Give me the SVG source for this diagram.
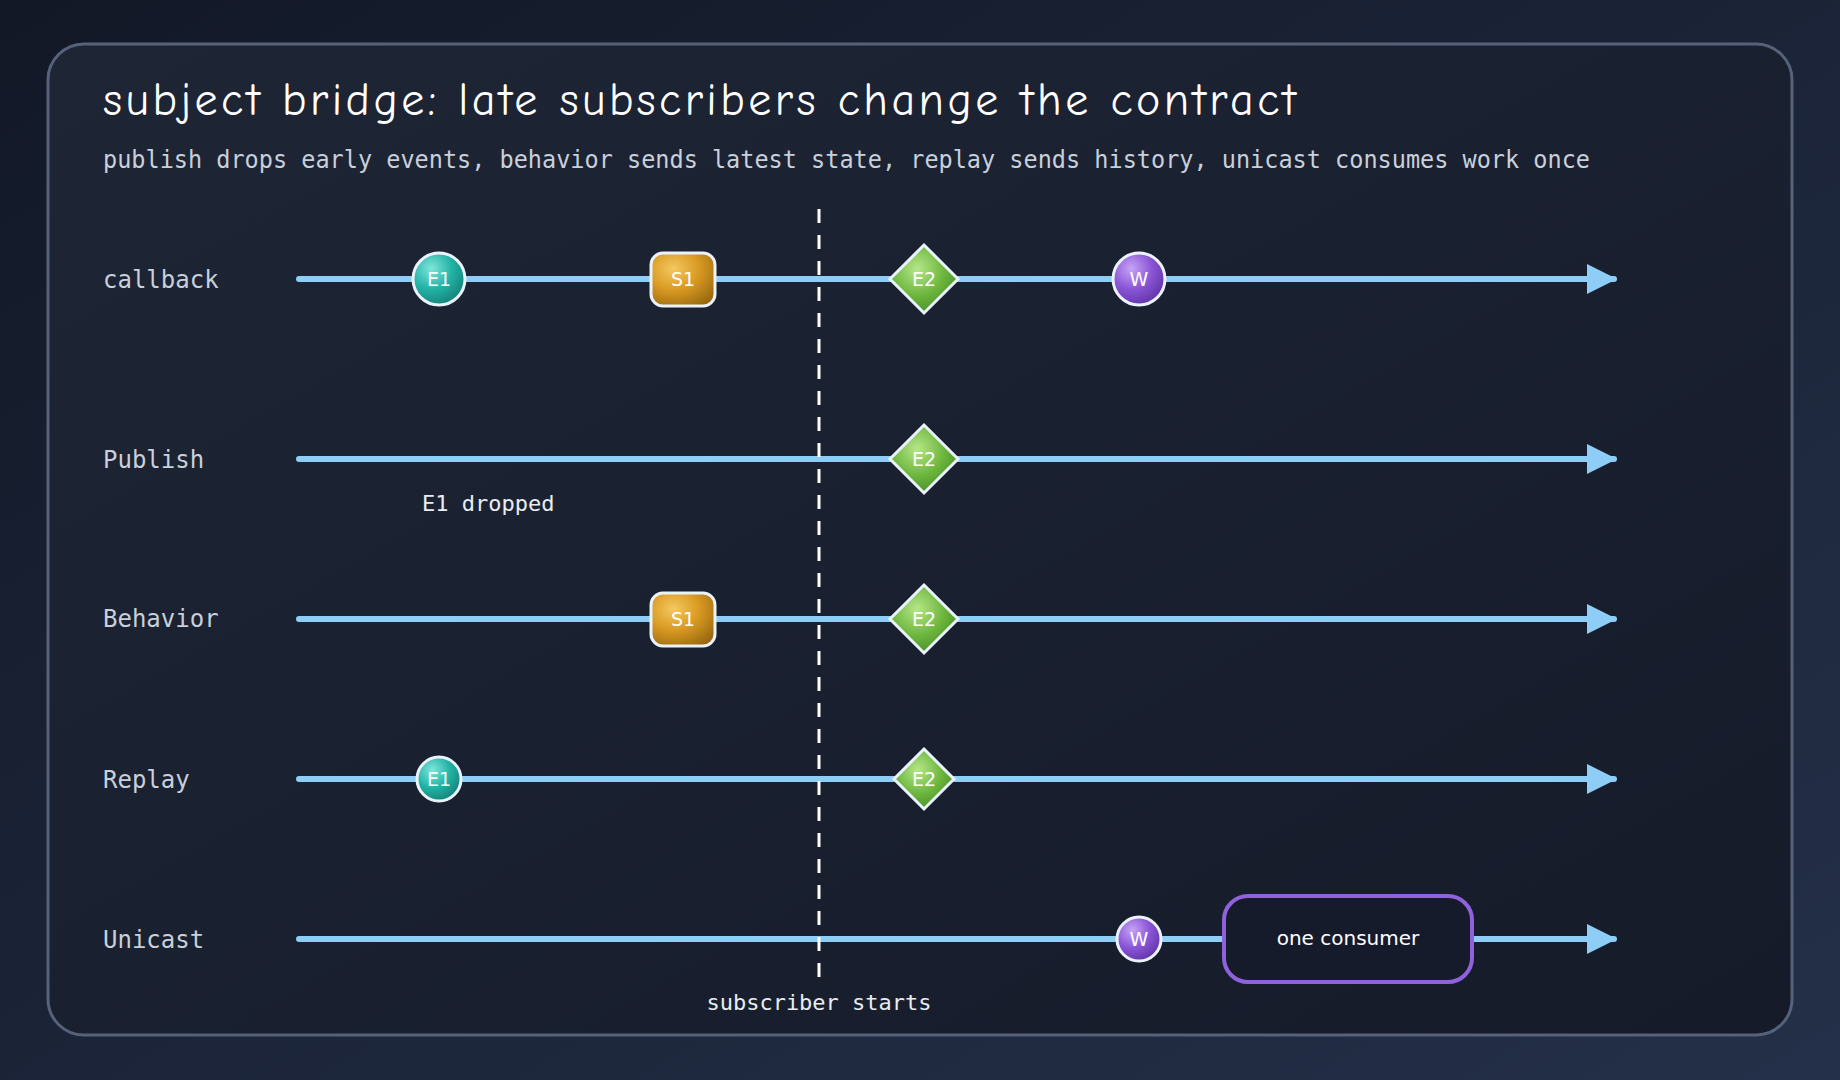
<svg xmlns="http://www.w3.org/2000/svg" width="1840" height="1080" viewBox="0 0 1840 1080">
<defs>
<linearGradient id="bg" x1="0" y1="0" x2="1" y2="1"><stop offset="0" stop-color="#121826"/><stop offset="1" stop-color="#243049"/></linearGradient>
<linearGradient id="panel" x1="0" y1="0" x2="1" y2="1"><stop offset="0" stop-color="#1e2535"/><stop offset="1" stop-color="#151b29"/></linearGradient>
<radialGradient id="teal" cx="0.35" cy="0.3" r="0.8"><stop offset="0" stop-color="#7fe6da"/><stop offset="0.5" stop-color="#22b3a6"/><stop offset="1" stop-color="#147a72"/></radialGradient>
<radialGradient id="gold" cx="0.35" cy="0.3" r="0.8"><stop offset="0" stop-color="#f4c860"/><stop offset="0.5" stop-color="#d99a22"/><stop offset="1" stop-color="#9a6a10"/></radialGradient>
<radialGradient id="green" cx="0.4" cy="0.35" r="0.8"><stop offset="0" stop-color="#b6e68a"/><stop offset="0.5" stop-color="#6cb63c"/><stop offset="1" stop-color="#3e7f22"/></radialGradient>
<radialGradient id="purple" cx="0.35" cy="0.3" r="0.8"><stop offset="0" stop-color="#c6a3f5"/><stop offset="0.5" stop-color="#8a55d6"/><stop offset="1" stop-color="#5a2fa0"/></radialGradient>
<marker id="arr" viewBox="0 0 10 10" refX="9" refY="5" markerWidth="5" markerHeight="5" orient="auto" markerUnits="strokeWidth"><path d="M0,0 L10,5 L0,10 z" fill="#8ecdf5"/></marker>
<style>
.lane{stroke:#8ecdf5;stroke-width:6;stroke-linecap:round;fill:none}
.lbl{font-family:"DejaVu Sans Mono","Liberation Mono",monospace;font-size:24px;fill:#c8d0dc}
.node{stroke:#eaf2fb;stroke-width:3}
.nt{font-family:"DejaVu Sans","Liberation Sans",sans-serif;font-size:19px;fill:#ffffff;text-anchor:middle}
.note{font-family:"DejaVu Sans Mono","Liberation Mono",monospace;font-size:22px;fill:#e8edf3}
</style>
</defs>
<rect width="1840" height="1080" fill="url(#bg)"/>
<rect x="48" y="44" width="1744" height="991" rx="36" fill="url(#panel)" stroke="#56627a" stroke-width="3"/>
<text x="103" y="115" font-family="'Comic Neue','Comic Sans MS','DejaVu Sans',sans-serif" font-size="46" fill="#ffffff" textLength="1193" lengthAdjust="spacing">subject bridge: late subscribers change the contract</text>
<text x="103" y="168" class="lbl" font-size="23.5" fill="#b9c2d0" textLength="1487" lengthAdjust="spacingAndGlyphs">publish drops early events, behavior sends latest state, replay sends history, unicast consumes work once</text>
<g id="labels">
<text x="103" y="288" class="lbl">callback</text>
<text x="103" y="468" class="lbl">Publish</text>
<text x="103" y="627" class="lbl">Behavior</text>
<text x="103" y="788" class="lbl">Replay</text>
<text x="103" y="948" class="lbl">Unicast</text>
</g>
<g id="connectors">
<line class="lane" x1="299" y1="279" x2="1614" y2="279" marker-end="url(#arr)"/>
<line class="lane" x1="299" y1="459" x2="1614" y2="459" marker-end="url(#arr)"/>
<line class="lane" x1="299" y1="619" x2="1614" y2="619" marker-end="url(#arr)"/>
<line class="lane" x1="299" y1="779" x2="1614" y2="779" marker-end="url(#arr)"/>
<line class="lane" x1="299" y1="939" x2="1614" y2="939" marker-end="url(#arr)"/>
<line x1="819" y1="209" x2="819" y2="983" stroke="#ffffff" stroke-width="3" stroke-dasharray="14 12"/>
</g>
<g id="subscriber-starts"><text x="819" y="1010" class="note" text-anchor="middle">subscriber starts</text></g>
<g id="e1-dropped"><text x="422" y="511" class="note">E1 dropped</text></g>
<g id="cb-e1"><circle cx="439" cy="279" r="26" fill="url(#teal)" class="node"/><text x="439" y="286" class="nt">E1</text></g>
<g id="cb-s1"><rect x="651" y="253" width="64" height="53" rx="12" fill="url(#gold)" class="node"/><text x="683" y="286" class="nt">S1</text></g>
<g id="cb-e2"><path d="M924,245 L958,279 L924,313 L890,279 Z" fill="url(#green)" class="node"/><text x="924" y="286" class="nt">E2</text></g>
<g id="cb-w"><circle cx="1139" cy="279" r="26" fill="url(#purple)" class="node"/><text x="1139" y="286" class="nt">W</text></g>
<g id="pub-e2"><path d="M924,425 L958,459 L924,493 L890,459 Z" fill="url(#green)" class="node"/><text x="924" y="466" class="nt">E2</text></g>
<g id="beh-s1"><rect x="651" y="593" width="64" height="53" rx="12" fill="url(#gold)" class="node"/><text x="683" y="626" class="nt">S1</text></g>
<g id="beh-e2"><path d="M924,585 L958,619 L924,653 L890,619 Z" fill="url(#green)" class="node"/><text x="924" y="626" class="nt">E2</text></g>
<g id="rep-e1"><circle cx="439" cy="779" r="22" fill="url(#teal)" class="node"/><text x="439" y="786" class="nt">E1</text></g>
<g id="rep-e2"><path d="M924,749 L954,779 L924,809 L894,779 Z" fill="url(#green)" class="node"/><text x="924" y="786" class="nt">E2</text></g>
<g id="uni-w"><circle cx="1139" cy="939" r="22" fill="url(#purple)" class="node"/><text x="1139" y="946" class="nt">W</text></g>
<g id="one-consumer"><rect x="1224" y="896" width="248" height="86" rx="24" fill="#161b2c" stroke="#8f62dc" stroke-width="4"/><text x="1348" y="945" font-family="'DejaVu Sans','Liberation Sans',sans-serif" font-size="20" fill="#ffffff" text-anchor="middle">one consumer</text></g>
</svg>
